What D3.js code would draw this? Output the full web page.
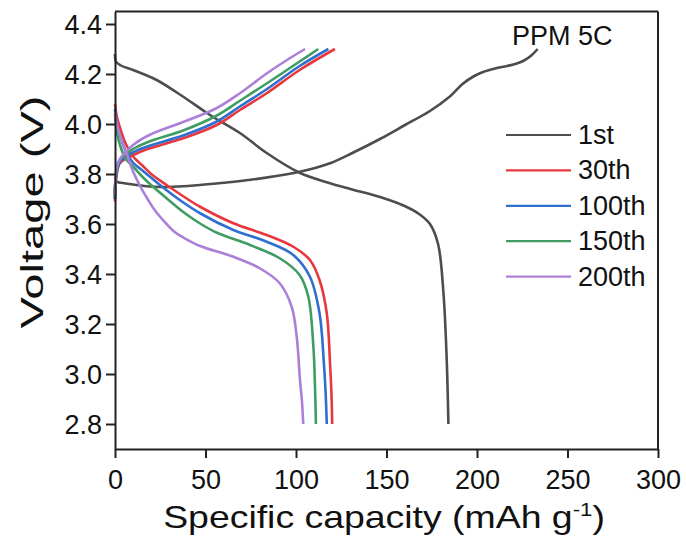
<!DOCTYPE html>
<html>
<head>
<meta charset="utf-8">
<script src="https://cdn.jsdelivr.net/npm/d3@7"></script>
<style>
  body { margin: 0; background: #fff; }
  text { font-family: "Liberation Sans", Arial, sans-serif; }
</style>
</head>
<body>
<div class="chart"></div>
<script>

// cycle names and colours
var cycles = ["1st", "30th", "100th", "150th", "200th"];
var colors = ["#4d4d4d", "#e8383d", "#2f6fcf", "#3f9d63", "#ac80d8"];

// charge curves (capacity mAh/g, voltage V)
var chgCap1 = [0, 0.5, 3, 10, 19, 25, 35, 47, 60, 75, 90, 102, 110, 118.8, 130, 146.4, 160, 174, 185, 192, 198, 203, 210, 216.6, 222, 226, 230, 233.5];
var chgV1   = [3.70, 3.768, 3.765, 3.758, 3.75, 3.748, 3.75, 3.756, 3.765, 3.777, 3.793, 3.809, 3.823, 3.843, 3.88, 3.94, 3.995, 4.052, 4.11, 4.16, 4.19, 4.207, 4.222, 4.232, 4.242, 4.254, 4.274, 4.30];
var chgCap30 = [0, 0.3, 1, 2.8, 10.1, 19.3, 37.7, 56.2, 69, 83.8, 102, 121.5];
var chgV30   = [3.69, 3.75, 3.80, 3.844, 3.876, 3.903, 3.943, 3.996, 4.056, 4.123, 4.216, 4.30];
var chgCap100 = [0, 0.3, 1, 2.8, 10, 19, 38, 56, 69, 84, 102, 117.9];
var chgV100   = [3.70, 3.76, 3.81, 3.85, 3.887, 3.913, 3.955, 4.009, 4.07, 4.14, 4.232, 4.30];
var chgCap150 = [0, 0.3, 1, 2.8, 10, 19, 38, 56, 69, 84, 102, 112.3];
var chgV150   = [3.71, 3.77, 3.82, 3.86, 3.90, 3.93, 3.975, 4.033, 4.093, 4.163, 4.25, 4.30];
var chgCap200 = [0, 0.3, 1, 2.8, 10, 19, 38, 56, 69, 84, 95, 105];
var chgV200   = [3.72, 3.78, 3.83, 3.86, 3.916, 3.956, 4.009, 4.063, 4.123, 4.203, 4.256, 4.30];

// discharge curves
var disCap1 = [0, 0.5, 3, 10, 23, 37.7, 52.5, 69, 83.8, 102, 118.8, 130, 146.4, 160, 168, 174, 178.5, 181.5, 183.3, 184.2];
var disV1   = [4.28, 4.25, 4.235, 4.216, 4.176, 4.109, 4.036, 3.964, 3.884, 3.805, 3.763, 3.74, 3.708, 3.672, 3.64, 3.6, 3.52, 3.32, 3.05, 2.8];
var disCap30 = [0, 1, 3, 6, 10, 15, 20, 28.5, 35, 47, 65.4, 83.8, 98.5, 107.7, 113, 117, 118.8, 119.6, 120];
var disV30   = [4.08, 4.03, 3.98, 3.92, 3.87, 3.835, 3.80, 3.756, 3.724, 3.669, 3.603, 3.556, 3.509, 3.456, 3.376, 3.243, 3.044, 2.92, 2.8];
var disCap100 = [0, 1, 3, 6, 10, 15, 20, 28.5, 35, 47, 65.4, 83.8, 98.5, 107.7, 113, 115.4, 116.4, 117];
var disV100   = [4.06, 4.00, 3.95, 3.89, 3.845, 3.815, 3.785, 3.735, 3.70, 3.643, 3.576, 3.529, 3.476, 3.389, 3.243, 3.044, 2.92, 2.8];
var disCap150 = [0, 1, 3, 6, 10, 15, 19.3, 28.5, 37.7, 47, 56, 74.6, 91, 102, 106.8, 109.6, 110.5, 111];
var disV150   = [4.04, 3.97, 3.91, 3.86, 3.83, 3.79, 3.76, 3.703, 3.648, 3.602, 3.566, 3.516, 3.463, 3.396, 3.309, 3.109, 2.95, 2.8];
var disCap200 = [0, 1, 3, 6, 10, 14, 18, 22, 28.5, 33, 38, 47, 65.4, 80, 91, 97.6, 100.4, 102.2, 103.3, 104];
var disV200   = [4.05, 4.00, 3.95, 3.89, 3.81, 3.75, 3.70, 3.655, 3.60, 3.568, 3.545, 3.512, 3.469, 3.423, 3.363, 3.269, 3.149, 2.976, 2.89, 2.8];

var xTicks = [0, 50, 100, 150, 200, 250, 300];
var yTicks = [2.8, 3.0, 3.2, 3.4, 3.6, 3.8, 4.0, 4.2, 4.4];

var chgCaps = [chgCap1, chgCap30, chgCap100, chgCap150, chgCap200];
var chgVs = [chgV1, chgV30, chgV100, chgV150, chgV200];
var disCaps = [disCap1, disCap30, disCap100, disCap150, disCap200];
var disVs = [disV1, disV30, disV100, disV150, disV200];

var w = 686;
var h = 543;
var padL = 115, padR = 658, padT = 11.5, padB = 449;

var svg = d3.select(".chart")
            .append("svg")
            .attr("width", w)
            .attr("height", h);

var x = d3.scaleLinear().domain([0, 300]).range([padL, padR]);
var y = d3.scaleLinear().domain([2.7, 4.45]).range([padB, padT]);

var line = d3.line()
             .x(function(d) { return x(d[0]); })
             .y(function(d) { return y(d[1]); })
             .curve(d3.curveCatmullRom.alpha(0.5));

function pairs(caps, vs) {
  return caps.map(function(c, i) { return [c, vs[i]]; });
}

// curves
cycles.forEach(function(name, k) {
  [pairs(chgCaps[k], chgVs[k]), pairs(disCaps[k], disVs[k])].forEach(function(pts) {
    svg.append("path")
       .attr("d", line(pts))
       .attr("fill", "none")
       .attr("stroke", colors[k])
       .attr("stroke-width", 2.6)
       .attr("stroke-linejoin", "round");
  });
});

// frame
svg.append("line").attr("x1", padL).attr("x2", padR).attr("y1", padT).attr("y2", padT)
   .attr("stroke", "#222").attr("stroke-width", 2);
svg.append("line").attr("x1", padR).attr("x2", padR).attr("y1", padT).attr("y2", padB)
   .attr("stroke", "#222").attr("stroke-width", 2);

var xAxis = svg.append("g")
               .attr("transform", "translate(0," + padB + ")")
               .call(d3.axisBottom(x).tickValues(xTicks).tickSize(9).tickSizeOuter(0));
var yAxis = svg.append("g")
               .attr("transform", "translate(" + padL + ",0)")
               .call(d3.axisLeft(y).tickValues(yTicks).tickFormat(d3.format(".1f")).tickSize(9).tickSizeOuter(0));

[xAxis, yAxis].forEach(function(g) {
  g.select(".domain").attr("stroke", "#222").attr("stroke-width", 2);
  g.selectAll(".tick line").attr("stroke", "#222").attr("stroke-width", 2);
  g.selectAll(".tick text")
   .attr("font-family", "Liberation Sans, Arial, sans-serif")
   .attr("font-size", "27px")
   .attr("fill", "#111");
});
xAxis.selectAll(".tick text").attr("dy", "1.05em");
yAxis.selectAll(".tick text").attr("x", -13).attr("dy", "0.36em");

// axis titles
var xt = svg.append("text")
            .attr("font-size", "32px")
            .attr("fill", "#111")
            .attr("text-anchor", "middle");
xt.append("tspan").text("Specific capacity (mAh g");
xt.append("tspan").attr("font-size", "19px").attr("dy", "-12").text("-1");
xt.append("tspan").attr("dy", "12").text(")");
var xw = xt.node().getBBox().width;
xt.attr("transform", "translate(384,528) scale(" + (442 / xw) + ",1)");

var yt = svg.append("text")
            .attr("font-size", "32px")
            .attr("fill", "#111")
            .attr("text-anchor", "middle")
            .text("Voltage (V)");
var yw = yt.node().getBBox().width;
yt.attr("transform", "translate(43,212) rotate(-90) scale(" + (233 / yw) + ",1)");

// annotation
svg.append("text")
   .attr("x", 512)
   .attr("y", 45)
   .attr("font-size", "27px")
   .attr("fill", "#111")
   .text("PPM 5C");

// legend
var legend = svg.selectAll(".leg")
                .data(cycles)
                .enter()
                .append("g")
                .attr("transform", function(d, i) {
                  return "translate(506," + (135 + i * 35.4) + ")";
                });
legend.append("line")
      .attr("x1", 0).attr("x2", 65)
      .attr("stroke", function(d, i) { return colors[i]; })
      .attr("stroke-width", 2.2);
legend.append("text")
      .attr("x", 72)
      .attr("y", 9)
      .attr("font-size", "27px")
      .attr("fill", "#111")
      .text(function(d) { return d; });

</script>
</body>
</html>
